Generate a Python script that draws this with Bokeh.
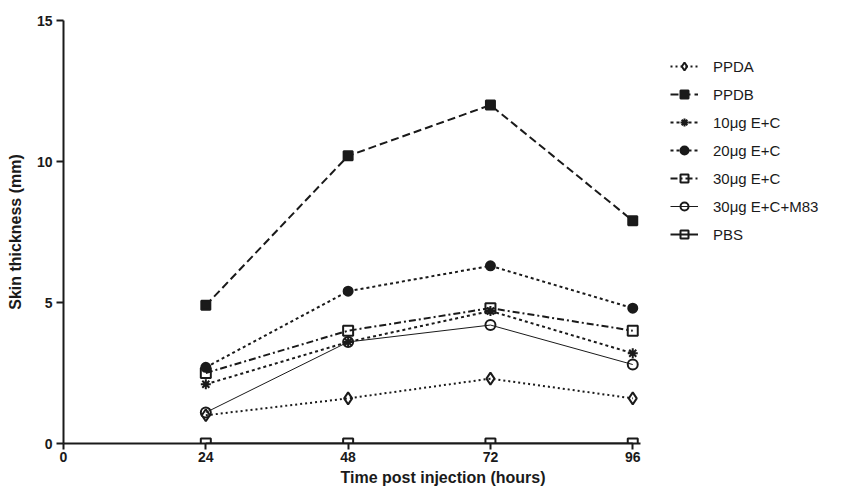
from bokeh.plotting import figure
from bokeh.models import Legend, LegendItem, FixedTicker, Range1d
from bokeh.embed import file_html
from bokeh.resources import INLINE

hours = [24, 48, 72, 96]
series_names = ["PPDA", "PPDB", "10\u03bcg E+C", "20\u03bcg E+C", "30\u03bcg E+C", "30\u03bcg E+C+M83", "PBS"]
ppda = [1.0, 1.6, 2.3, 1.6]
ppdb = [4.9, 10.2, 12.0, 7.9]
e10 = [2.1, 3.6, 4.7, 3.2]
e20 = [2.7, 5.4, 6.3, 4.8]
e30 = [2.5, 4.0, 4.8, 4.0]
e30m = [1.1, 3.6, 4.2, 2.8]
pbs = [0.0, 0.0, 0.0, 0.0]
x_ticks = [0, 24, 48, 72, 96]
y_ticks = [0, 5, 10, 15]

C = "#1a1a1a"
FONT = "Liberation Sans"

p = figure(width=827, height=490, output_backend="svg", toolbar_location=None,
           x_range=Range1d(0, 128), y_range=Range1d(0, 15),
           min_border_left=63, min_border_right=5, min_border_top=20, min_border_bottom=47)
p.outline_line_color = None
p.grid.visible = False
p.background_fill_color = "white"

for ax in (p.xaxis, p.yaxis):
    ax.axis_line_width = 2
    ax.axis_line_color = C
    ax.major_tick_line_width = 2
    ax.major_tick_line_color = C
    ax.major_tick_out = 7
    ax.major_tick_in = 0
    ax.minor_tick_line_color = None
    ax.major_label_text_font = FONT
    ax.major_label_text_font_style = "bold"
    ax.major_label_text_font_size = "14px"
    ax.major_label_text_color = C
    ax.axis_label_text_font = FONT
    ax.axis_label_text_font_style = "bold"
    ax.axis_label_text_font_size = "16px"
    ax.axis_label_text_color = C
p.xaxis.bounds = (0, 97.3)
p.xaxis.ticker = FixedTicker(ticks=x_ticks)
p.yaxis.ticker = FixedTicker(ticks=y_ticks)
p.xaxis.axis_label = "Time post injection (hours)"
p.yaxis.axis_label = "Skin thickness (mm)"
p.xaxis.major_tick_out = 6
p.xaxis.major_label_standoff = 2
p.xaxis.axis_label_standoff = 4
p.yaxis.major_label_standoff = 4
p.yaxis.axis_label_standoff = 10

specs = [
    (ppda, "diamond", 12, None, "2 3", 2),
    (ppdb, "square", 9, C, "8 4", 2),
    (e10, "asterisk", 10, C, "3 3", 2),
    (e20, "circle", 9, C, "3 3", 2),
    (e30, "square", 10, None, "7 3 2 3", 2),
    (e30m, "circle", 10, None, "solid", 1),
    (pbs, "square", 10, None, "solid", 2),
]

items = []
for name, (vals, marker, size, fill, dash, lw) in zip(series_names, specs):
    r1 = p.line(hours, vals, line_color=C, line_width=lw, line_dash=dash)
    r2 = p.scatter(hours, vals, marker=marker, size=size, line_color=C,
                   line_width=2, fill_color=fill if fill else "white",
                   fill_alpha=1 if fill else 0)
    items.append(LegendItem(label=name, renderers=[r1, r2]))

legend = Legend(items=items, location=(607, 199), padding=0, margin=0,
                spacing=8, glyph_width=28, glyph_height=20, label_height=20,
                label_standoff=15, border_line_color=None,
                background_fill_alpha=0,
                label_text_font=FONT, label_text_font_size="15px",
                label_text_color=C)
p.add_layout(legend, "center")

open("out.html", "w").write(file_html(p, INLINE))
